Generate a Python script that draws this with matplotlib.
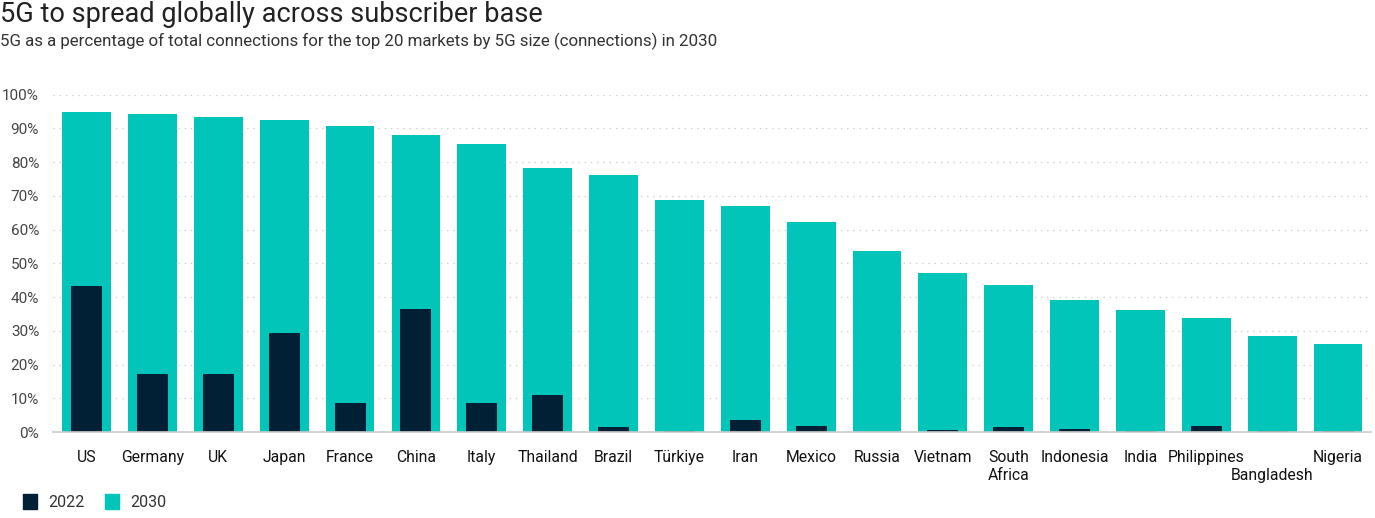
import numpy as np
import matplotlib.pyplot as plt
from matplotlib.patches import Patch
from matplotlib.transforms import ScaledTranslation

plt.rcParams.update({'font.family': 'Roboto', 'font.size': 11})

countries = ['US', 'Germany', 'UK', 'Japan', 'France', 'China', 'Italy', 'Thailand',
             'Brazil', 'Türkiye', 'Iran', 'Mexico', 'Russia', 'Vietnam', 'South\nAfrica',
             'Indonesia', 'India', 'Philippines', 'Bangladesh', 'Nigeria']
share_2030 = [95.0, 94.4, 93.3, 92.5, 90.8, 88.1, 85.4, 78.3, 76.3, 68.8,
              67.0, 62.3, 53.7, 47.2, 43.6, 39.2, 36.2, 33.8, 28.5, 26.1]
share_2022 = [43.3, 17.2, 17.2, 29.4, 8.6, 36.5, 8.6, 11.0, 1.5, 0.3,
              3.6, 1.8, 0.0, 0.6, 1.5, 0.9, 0.3, 1.8, 0.3, 0.3]
yticks = list(range(0, 101, 10))

TEAL = '#01C5B8'
NAVY = '#012036'

W, H = 1375, 518
fig = plt.figure(figsize=(W / 100, H / 100), dpi=100)
ax = fig.add_axes([53 / W, 1 - 432 / H, (1371 - 53) / W, (432 - 94.7) / H])

x = np.arange(len(countries))
ax.bar(x, share_2030, width=0.74, color=TEAL, zorder=2)
ax.bar(x, share_2022, width=0.47, color=NAVY, zorder=3)

ax.set_xlim(-0.51, 19.5)
ax.set_ylim(0, 100)
ax.set_yticks(yticks)
ax.set_yticklabels([f'{t}%' for t in yticks], color='#444444', fontsize=11)
ax.set_xticks(x)
ax.set_xticklabels(countries, color='#111111', fontsize=11.3, va='top', linespacing=1.25)
ax.tick_params(axis='both', length=0)
ax.tick_params(axis='y', pad=10)
ax.tick_params(axis='x', pad=13)
# the long label sits one line lower, as in the source chart
lab = ax.get_xticklabels()[countries.index('Bangladesh')]
lab.set_transform(lab.get_transform() + ScaledTranslation(0, -0.18, fig.dpi_scale_trans))
ax.grid(axis='y', linestyle=(0, (1, 4)), color='#c8c8c8', linewidth=0.9, zorder=0)
for s in ['top', 'right', 'left']:
    ax.spines[s].set_visible(False)
ax.spines['bottom'].set_color('#cccccc')
ax.spines['bottom'].set_linewidth(1.2)
ax.spines['bottom'].set_zorder(4)

fig.text(0.0, 1 - 1 / H, '5G to spread globally across subscriber base', fontsize=19.5,
         color='#222222', va='top', ha='left')
fig.text(0.0, 1 - 33 / H, '5G as a percentage of total connections for the top 20 markets by 5G size (connections) in 2030',
         fontsize=12.2, color='#333333', va='top', ha='left')

handles = [Patch(color=NAVY, label='2022'), Patch(color=TEAL, label='2030')]
fig.legend(handles=handles, loc='lower left', bbox_to_anchor=(9 / W, -0.012), ncol=2, frameon=False,
           fontsize=11.5, handlelength=0.85, handleheight=1.15, handletextpad=0.7, columnspacing=1.3,
           labelcolor='#333333')

fig.savefig('out.png', dpi=100)
